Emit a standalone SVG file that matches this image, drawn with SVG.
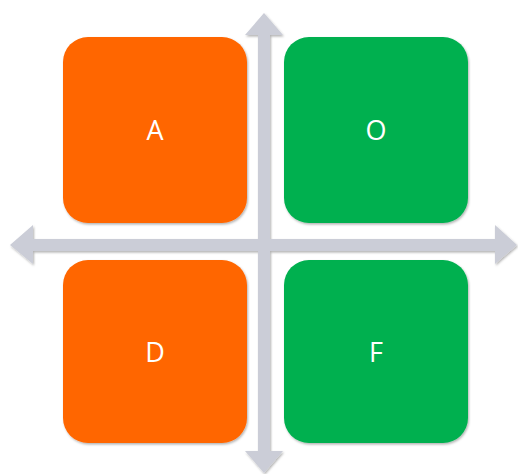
<svg xmlns="http://www.w3.org/2000/svg" width="518" height="474" viewBox="0 0 518 474">
<defs>
<filter id="sh" x="-10%" y="-10%" width="120%" height="120%">
<feDropShadow dx="1" dy="1.5" stdDeviation="1.2" flood-color="#000" flood-opacity="0.3"/>
</filter>
</defs>
<style>
.box{filter:url(#sh)}
.lbl{font-family:"Open Sans","Liberation Sans",sans-serif;font-size:27px;fill:#fff;text-anchor:middle}
.ax{fill:#CBCDD7;filter:url(#sh)}
</style>
<g id="connectors">
<path class="ax" d="M264,13 L283,35 L270,35 L270,239 L495,239 L495,225 L517,245 L495,264 L495,251 L270,251 L270,451 L283,451 L264,473 L245,451 L258,451 L258,251 L33,251 L33,264 L10,245 L33,225 L33,239 L258,239 L258,35 L245,35 Z"/>
</g>
<g id="A"><rect class="box" x="63" y="37" width="184" height="186" rx="25" fill="#FF6600"/><text class="lbl" x="155" y="140">A</text></g>
<g id="O"><rect class="box" x="284" y="37" width="184" height="186" rx="25" fill="#00B050"/><text class="lbl" x="376" y="140">O</text></g>
<g id="D"><rect class="box" x="63" y="260" width="184" height="183" rx="25" fill="#FF6600"/><text class="lbl" x="155" y="362">D</text></g>
<g id="F"><rect class="box" x="284" y="260" width="184" height="183" rx="25" fill="#00B050"/><text class="lbl" x="376" y="362">F</text></g>
</svg>
